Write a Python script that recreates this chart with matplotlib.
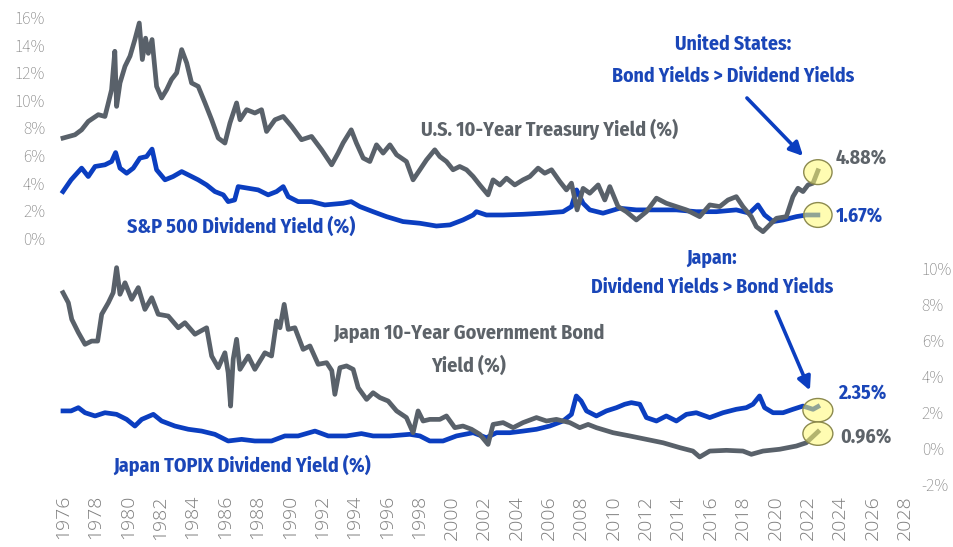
import matplotlib
matplotlib.use("Agg")
import numpy as np
import matplotlib.pyplot as plt
from matplotlib import font_manager
from matplotlib.patches import Ellipse, FancyArrowPatch

# ── Data ─────────────────────────────────────────────────────────────────────
us10y_t = [1976.0, 1976.74, 1977.15, 1977.56, 1978.18, 1978.59, 1978.8, 1979.0, 1979.2, 1979.31,
           1979.52, 1979.83, 1980.14, 1980.44, 1980.71, 1980.9, 1981.1, 1981.27, 1981.5, 1981.78,
           1982.09, 1982.4, 1982.7, 1983.02, 1983.33, 1983.64, 1983.94, 1984.35, 1984.77, 1985.18,
           1985.59, 1986.0, 1986.31, 1986.72, 1986.93, 1987.34, 1987.85, 1988.26, 1988.57, 1989.09,
           1989.6, 1990.12, 1990.73, 1991.35, 1991.97, 1992.59, 1992.99, 1993.3, 1993.8, 1994.12,
           1994.54, 1994.95, 1995.36, 1995.77, 1996.19, 1996.6, 1997.21, 1997.62, 1998.04, 1998.45,
           1998.96, 1999.27, 1999.68, 2000.09, 2000.5, 2000.92, 2001.33, 2001.74, 2002.25, 2002.56,
           2002.98, 2003.39, 2003.9, 2004.41, 2004.83, 2005.34, 2005.75, 2006.17, 2006.68, 2007.09,
           2007.4, 2007.75, 2008.12, 2008.53, 2009.05, 2009.46, 2009.77, 2010.28, 2010.79, 2011.41,
           2012.03, 2012.65, 2013.26, 2013.88, 2014.5, 2015.32, 2015.94, 2016.56, 2017.07, 2017.58,
           2017.99, 2018.51, 2018.82, 2019.23, 2019.64, 2020.06, 2020.67, 2021.08, 2021.39, 2021.7,
           2022.01, 2022.32, 2022.62]
us10y_v = [7.25, 7.49, 7.85, 8.46, 8.95, 8.82, 9.8, 10.76, 13.55, 9.55,
           11.25, 12.46, 13.2, 14.4, 15.6, 12.95, 14.5, 13.4, 14.4, 11.0,
           10.16, 10.76, 11.5, 11.98, 13.67, 12.7, 11.25, 11.0, 9.8, 8.58,
           7.25, 6.89, 8.34, 9.8, 8.58, 9.31, 9.07, 9.31, 7.73, 8.58,
           8.82, 8.1, 7.13, 7.37, 6.4, 5.31, 6.16, 6.9, 7.85, 6.89,
           5.8, 5.55, 6.76, 6.16, 6.76, 6.04, 5.55, 4.22, 4.95, 5.67,
           6.4, 5.91, 5.55, 4.95, 5.19, 4.95, 4.46, 3.85, 3.13, 4.22,
           3.85, 4.34, 3.85, 4.22, 4.46, 5.07, 4.7, 4.95, 4.1, 3.49,
           3.98, 2.04, 3.6, 3.25, 3.85, 2.76, 3.73, 2.28, 1.91, 1.31,
           1.91, 2.89, 2.52, 2.28, 2.04, 1.55, 2.4, 2.28, 2.76, 3.0,
           2.28, 1.55, 0.82, 0.46, 0.95, 1.43, 1.55, 3.0, 3.61, 3.37,
           3.85, 3.98, 4.88]

sp500_t = [1976.0, 1976.5, 1977.15, 1977.56, 1977.98, 1978.59, 1979.0, 1979.25, 1979.52, 1979.93,
           1980.34, 1980.75, 1981.16, 1981.5, 1981.78, 1982.3, 1982.8, 1983.33, 1983.74, 1984.35,
           1984.87, 1985.38, 1985.9, 1986.2, 1986.6, 1986.82, 1987.44, 1988.05, 1988.67, 1989.19,
           1989.6, 1989.91, 1990.52, 1991.35, 1992.17, 1993.3, 1993.8, 1994.33, 1995.15, 1995.98,
           1997.0, 1998.04, 1999.06, 1999.9, 2000.7, 2001.33, 2001.53, 2002.15, 2003.18, 2004.41,
           2005.65, 2006.88, 2007.4, 2007.72, 2008.12, 2008.53, 2009.35, 2010.38, 2011.41, 2012.65,
           2013.88, 2015.11, 2016.35, 2017.58, 2018.4, 2018.92, 2019.33, 2019.85, 2020.47, 2021.29,
           2021.9, 2022.62]
sp500_v = [3.37, 4.22, 5.07, 4.46, 5.19, 5.31, 5.55, 6.2, 5.07, 4.7,
           5.07, 5.8, 5.91, 6.45, 4.95, 4.22, 4.46, 4.82, 4.58, 4.22,
           3.85, 3.37, 3.13, 2.64, 2.76, 3.73, 3.61, 3.49, 3.13, 3.37,
           3.73, 3.0, 2.64, 2.64, 2.4, 2.52, 2.64, 2.28, 1.91, 1.55,
           1.19, 1.07, 0.87, 0.95, 1.31, 1.67, 1.91, 1.67, 1.67, 1.72,
           1.8, 1.91, 2.28, 3.49, 2.52, 2.04, 1.8, 2.16, 2.04, 2.04,
           2.04, 1.91, 1.91, 2.04, 1.8, 2.4, 1.67, 1.19, 1.31, 1.55,
           1.67, 1.67]

jgb_t = [1976.0, 1976.33, 1976.54, 1976.95, 1977.36, 1977.77, 1978.14, 1978.39, 1978.8, 1979.1,
         1979.31, 1979.52, 1979.83, 1980.24, 1980.65, 1981.06, 1981.48, 1981.88, 1982.5, 1983.12,
         1983.53, 1984.15, 1984.87, 1985.18, 1985.59, 1986.0, 1986.2, 1986.35, 1986.51, 1986.72,
         1986.93, 1987.44, 1987.85, 1988.47, 1988.88, 1989.19, 1989.4, 1989.66, 1989.91, 1990.32,
         1990.83, 1991.25, 1991.76, 1992.28, 1992.6, 1992.79, 1993.1, 1993.51, 1993.92, 1994.23,
         1994.75, 1995.15, 1995.57, 1996.08, 1996.6, 1997.21, 1997.62, 1997.93, 1998.24, 1998.65,
         1999.27, 1999.68, 2000.2, 2000.7, 2001.23, 2001.74, 2002.25, 2002.56, 2003.18, 2003.8,
         2004.41, 2005.24, 2005.86, 2006.47, 2007.3, 2007.91, 2008.43, 2008.94, 2009.97, 2011.0,
         2012.03, 2013.06, 2014.09, 2014.9, 2015.32, 2015.94, 2016.97, 2017.99, 2018.51, 2019.23,
         2020.26, 2021.29, 2021.9, 2022.62]
jgb_v = [8.63, 8.07, 7.15, 6.41, 5.76, 5.94, 5.94, 7.43, 8.07, 8.63,
         10.02, 8.54, 9.18, 8.26, 8.91, 7.7, 8.35, 7.43, 7.33, 6.68,
         6.96, 6.32, 6.68, 5.11, 4.46, 5.29, 4.18, 2.33, 4.93, 6.04,
         4.37, 5.11, 4.37, 5.29, 5.11, 7.06, 6.68, 7.98, 6.59, 6.68,
         5.48, 5.67, 4.65, 4.74, 4.3, 2.98, 4.46, 4.56, 4.37, 3.35,
         2.7, 3.07, 2.8, 2.61, 2.06, 1.69, 0.85, 2.06, 1.5, 1.59,
         1.59, 1.78, 1.13, 1.22, 1.04, 0.76, 0.2, 1.31, 1.41, 1.13,
         1.41, 1.69, 1.5, 1.59, 1.41, 1.13, 1.31, 1.13, 0.85, 0.67,
         0.48, 0.29, 0.02, -0.17, -0.5, -0.17, -0.13, -0.17, -0.35, -0.17,
         -0.07, 0.11, 0.29, 0.9]

topix_t = [1976.0, 1976.5, 1976.95, 1977.36, 1977.98, 1978.59, 1979.31, 1979.93, 1980.44, 1980.86,
           1981.58, 1982.09, 1982.91, 1983.74, 1984.56, 1985.38, 1986.2, 1987.03, 1987.85, 1988.88,
           1989.7, 1990.52, 1991.56, 1992.38, 1993.5, 1994.43, 1995.15, 1996.18, 1997.42, 1998.04,
           1998.65, 1999.47, 2000.3, 2001.33, 2002.15, 2002.77, 2003.6, 2004.41, 2005.24, 2006.06,
           2006.88, 2007.4, 2007.7, 2008.0, 2008.33, 2008.94, 2009.56, 2010.18, 2010.69, 2011.1,
           2011.62, 2012.03, 2012.65, 2013.26, 2013.88, 2014.5, 2015.11, 2015.94, 2016.76, 2017.58,
           2018.2, 2018.61, 2019.02, 2019.33, 2019.85, 2020.47, 2021.08, 2021.7, 2022.32, 2022.62]
topix_v = [2.06, 2.06, 2.24, 1.96, 1.78, 1.96, 1.87, 1.59, 1.22, 1.59,
           1.87, 1.5, 1.22, 1.04, 0.94, 0.76, 0.39, 0.48, 0.39, 0.39,
           0.67, 0.67, 0.94, 0.67, 0.67, 0.8, 0.67, 0.67, 0.76, 0.67,
           0.39, 0.39, 0.67, 0.85, 0.57, 0.85, 0.85, 0.94, 1.04, 1.22,
           1.5, 1.87, 2.89, 2.61, 2.06, 1.78, 2.06, 2.24, 2.43, 2.52,
           2.43, 1.69, 1.5, 1.78, 1.5, 1.87, 1.96, 1.69, 1.96, 2.15,
           2.24, 2.43, 2.89, 2.24, 1.96, 1.96, 2.15, 2.33, 2.15, 2.3]

# latest readings printed beside the end points
last_labels = {"us10y": 4.88, "sp500": 1.67, "topix": 2.35, "jgb": 0.96}

year_ticks = list(range(1976, 2029, 2))
us_ticks = list(range(0, 17, 2))
jp_ticks = list(range(-2, 11, 2))

# ── Fonts ────────────────────────────────────────────────────────────────────
installed = {f.name for f in font_manager.fontManager.ttflist}

def pick(*names):
    for n in names:
        if n in installed:
            return n
    return "DejaVu Sans"

F_BOLD = pick("Fira Sans Condensed", "IBM Plex Sans Condensed", "Open Sans Condensed",
              "Roboto Condensed")
F_YTK = pick("Source Sans 3", "Source Sans Pro", "Fira Sans", "Open Sans")
F_XTK = pick("Open Sans", "Noto Sans", "DejaVu Sans")

GRAY = "#59616a"
BLUE = "#0b3ec0"
TXT_BLUE = "#1a46b8"
TXT_GRAY = "#5d6369"
TICK = "#7f7f7f"

# ── Figure ───────────────────────────────────────────────────────────────────
W, H = 954, 547
fig = plt.figure(figsize=(W / 100, H / 100), dpi=100)
fig.patch.set_facecolor("white")

ax_us = fig.add_axes([63 / W, 1 - 238 / H, 842 / W, 220.5 / H])
ax_jp = fig.add_axes([63 / W, 1 - 484 / H, 842 / W, 216 / H])
for ax in (ax_us, ax_jp):
    ax.set_facecolor("none")
    ax.set_xlim(1976, 2028)
    for sp in ax.spines.values():
        sp.set_visible(False)
    ax.tick_params(length=0)

ax_us.set_ylim(0, 16)
ax_us.set_yticks(us_ticks)
ax_us.set_yticklabels([f"{v}%" for v in us_ticks], fontsize=12.5, color=TICK,
                      family=F_YTK, fontweight="light")
ax_us.tick_params(axis="y", pad=13)
ax_us.set_xticks([])

ax_jp.set_ylim(-2, 10)
ax_jp.yaxis.tick_right()
ax_jp.set_yticks(jp_ticks)
ax_jp.set_yticklabels([f"{v}%" for v in jp_ticks], fontsize=12.5, color=TICK,
                      family=F_YTK, fontweight="light")
ax_jp.tick_params(axis="y", pad=12)
ax_jp.set_xticks(year_ticks)
ax_jp.set_xticklabels([str(y) for y in year_ticks], rotation=90, fontsize=14,
                      color=TICK, family=F_XTK, fontweight="light")
ax_jp.tick_params(axis="x", pad=8)

LW = 3.4
ax_us.plot(sp500_t, sp500_v, color=BLUE, lw=LW, clip_on=False, zorder=2)
ax_us.plot(us10y_t, us10y_v, color=GRAY, lw=LW, clip_on=False, zorder=3)
ax_jp.plot(topix_t, topix_v, color=BLUE, lw=LW, clip_on=False, zorder=2)
ax_jp.plot(jgb_t, jgb_v, color=GRAY, lw=LW, clip_on=False, zorder=3)

# yellow highlight rings at the latest readings
def ring(ax, x, y, w, h):
    ax.add_patch(Ellipse((x, y), w, h, facecolor=(1.0, 0.98, 0.45, 0.55),
                         edgecolor="#8c8a4e", lw=1.0, zorder=5, clip_on=False))

ring(ax_us, us10y_t[-1], us10y_v[-1] - 0.1, 1.75, 1.8)
ring(ax_us, sp500_t[-1], sp500_v[-1], 1.75, 1.8)
ring(ax_jp, topix_t[-1], topix_v[-1] - 0.2, 1.85, 1.3)
ring(ax_jp, jgb_t[-1], jgb_v[-1] - 0.1, 1.85, 1.3)

# ── Text ─────────────────────────────────────────────────────────────────────
def ftext(x, y, s, color, size=14.4, ha="center"):
    fig.text(x / W, 1 - y / H, s, color=color, fontsize=size, ha=ha, va="center",
             family=F_BOLD, fontweight="bold")

ftext(733, 44, "United States:", TXT_BLUE, 14.2)
ftext(733, 76, "Bond Yields > Dividend Yields", TXT_BLUE, 14.2)
ftext(712, 258, "Japan:", TXT_BLUE, 14.2)
ftext(712, 287, "Dividend Yields > Bond Yields", TXT_BLUE, 14.2)

ftext(550, 129, "U.S. 10-Year Treasury Yield (%)", TXT_GRAY)
ftext(241, 227, "S&P 500 Dividend Yield (%)", TXT_BLUE)
ftext(469, 333, "Japan 10-Year Government Bond", TXT_GRAY)
ftext(469, 366, "Yield (%)", TXT_GRAY)
ftext(242, 465, "Japan TOPIX Dividend Yield (%)", TXT_BLUE)

ftext(836, 158, f"{last_labels['us10y']:.2f}%", TXT_GRAY, 14.2, ha="left")
ftext(836, 216, f"{last_labels['sp500']:.2f}%", TXT_BLUE, 14.2, ha="left")
ftext(838, 393, f"{last_labels['topix']:.2f}%", TXT_BLUE, 14.2, ha="left")
ftext(840, 438, f"{last_labels['jgb']:.2f}%", TXT_GRAY, 14.2, ha="left")

def arrow(x0, y0, x1, y1):
    fig.add_artist(FancyArrowPatch(
        (x0 / W, 1 - y0 / H), (x1 / W, 1 - y1 / H), transform=fig.transFigure,
        arrowstyle="-|>", mutation_scale=20, lw=2.6, color=BLUE, zorder=6))

arrow(745, 96, 805, 158)
arrow(775, 309, 811, 393)

fig.savefig("out.png", dpi=100, facecolor="white")
